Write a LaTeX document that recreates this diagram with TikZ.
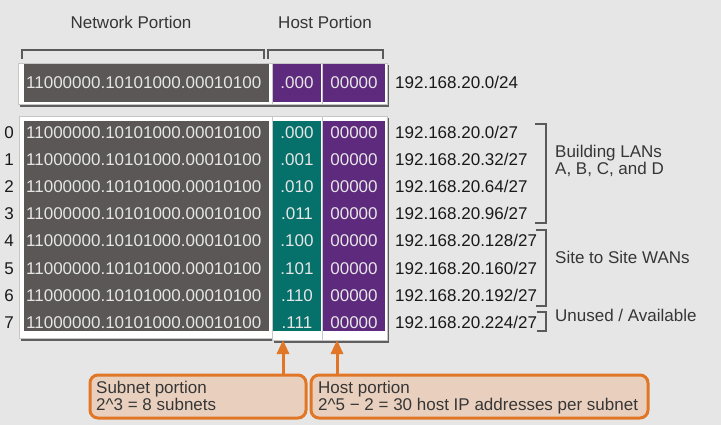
\documentclass[tikz,border=0pt]{standalone}
\usepackage{fontspec}
\setmainfont{Liberation Sans}
\usetikzlibrary{arrows.meta}
\definecolor{bgc}{HTML}{E6E6E6}
\definecolor{grayc}{HTML}{5B5757}
\definecolor{tealc}{HTML}{06706B}
\definecolor{purpc}{HTML}{5E2A7E}
\definecolor{boxtxt}{HTML}{E6E6E6}
\definecolor{orangec}{HTML}{E07626}
\definecolor{callfill}{HTML}{E9D0BE}
\definecolor{brackc}{HTML}{5A5A5A}
\definecolor{labc}{HTML}{363636}
\begin{document}
\begin{tikzpicture}[x=1pt,y=-1pt,
  every node/.style={inner sep=0pt, text height=12pt, text depth=0pt, font=\fontsize{17}{16}\selectfont},
  lab/.style={text=labc},
  ipt/.style={text=black!90, anchor=west},
  bin/.style={text=boxtxt, anchor=west},
  mid/.style={text=boxtxt},
  num/.style={text=black!90},
  panel/.style={fill=white, draw=gray!45, line width=0.6pt},
  shade/.style={fill=black!80, opacity=0.75},
  brack/.style={draw=brackc, line width=1.4pt},
  callout/.style={draw=orangec, fill=callfill, line width=3pt, rounded corners=8pt},
  ctext/.style={text=labc, anchor=west},
  oarrow/.style={draw=orangec, line width=3pt, -{Triangle[width=12pt,length=14pt]}}
]
\useasboundingbox (0,0) rectangle (721,425);
\fill[bgc] (0,0) rectangle (721,425);

% header labels
\node[lab] (np) at (131,23) {Network Portion};
\node[lab] (hp) at (325,23) {Host Portion};

% top brackets
\draw[brack] (22,59) -- (22,50) -- (264,50) -- (264,59);
\draw[brack] (268,59) -- (268,50) -- (383,50) -- (383,59);

% top row panels
\foreach \a/\b in {18/272, 272/322, 322/387}{
  \fill[shade] (\a+2,65) rectangle (\b+2,107);
  \path[panel] (\a,63) rectangle (\b,104);
}
\fill[grayc] (24,64) rectangle (269,102);
\fill[purpc] (273,64) rectangle (321,102);
\fill[purpc] (323,64) rectangle (385,102);
\node[bin] (tb) at (26,83) {11000000.10101000.00010100};
\node[mid] (ts) at (297,83) {.000};
\node[mid] (th) at (354,83) {00000};
\node[ipt] (tip) at (395,83) {192.168.20.0/24};

% main panels
\foreach \a/\b/\c in {19/272/338, 272/322/340, 322/387/340}{
  \fill[shade] (\a+2,118) rectangle (\b+2,\c+3);
  \path[panel] (\a,116) rectangle (\b,\c);
}
\fill[grayc] (24,121) rectangle (269,331);
\fill[tealc] (273,121) rectangle (321,331);
\fill[purpc] (323,121) rectangle (385,331);

\foreach \i/\s/\ip in {0/000/0, 1/001/32, 2/010/64, 3/011/96, 4/100/128, 5/101/160, 6/110/192, 7/111/224}{
  \node[num] (n\i) at (9,133+27*\i) {\i};
  \node[bin] (b\i) at (26,133+27*\i) {11000000.10101000.00010100};
  \node[mid] (s\i) at (297,133+27*\i) {.\s};
  \node[mid] (h\i) at (354,133+27*\i) {00000};
  \node[ipt] (ip\i) at (395,133+27*\i) {192.168.20.\ip/27};
}

% right brackets
\draw[brack] (535,124) -- (546,124) -- (546,223) -- (535,223);
\draw[brack] (536,230) -- (546,230) -- (546,306) -- (536,306);
\draw[brack] (537,312) -- (546,312) -- (546,331) -- (537,331);
\node[lab, anchor=west] (g1a) at (555,152) {Building LANs};
\node[lab, anchor=west] (g1b) at (555,169) {A, B, C, and D};
\node[lab, anchor=west] (g2) at (555,257) {Site to Site WANs};
\node[lab, anchor=west] (g3) at (555,315) {Unused / Available};

% callouts
\path[callout] (90,375) rectangle (306,418);
\coordinate (c1) at (198,375);
\path[callout] (311,375) rectangle (648,418);
\coordinate (c2) at (480,375);
\node[ctext] (t1a) at (96,387) {Subnet portion};
\node[ctext] (t1b) at (96,404) {2\^{}3 = 8 subnets};
\node[ctext] (t2a) at (318,387) {Host portion};
\node[ctext] (t2b) at (318,404) {2\^{}5 − 2 = 30 host IP addresses per subnet};

\coordinate (a1) at (283,340);
\coordinate (a2) at (337,340);
\draw[oarrow] (a1 |- c1) -- (a1);
\draw[oarrow] (a2 |- c2) -- (a2);
\end{tikzpicture}
\end{document}
